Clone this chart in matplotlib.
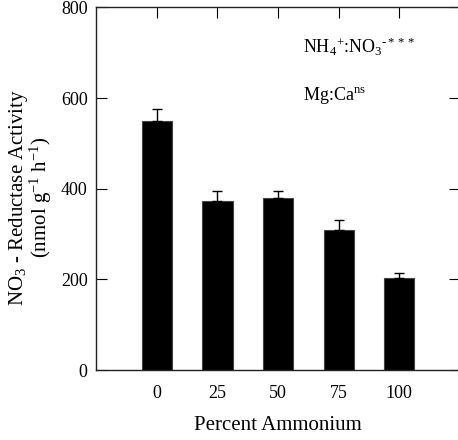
import matplotlib
matplotlib.use("Agg")
import matplotlib.pyplot as plt
import numpy as np

categories = ["0", "25", "50", "75", "100"]
activity = [549, 373, 379, 309, 202]
errors = [26, 22, 17, 22, 13]

plt.rcParams['font.family'] = ['Liberation Serif', 'DejaVu Serif']
plt.rcParams['mathtext.fontset'] = 'custom'
plt.rcParams['mathtext.rm'] = 'Liberation Serif'
plt.rcParams['mathtext.it'] = 'Liberation Serif:italic'

fig = plt.figure(figsize=(4.58, 4.40), dpi=100)
W, H = 458, 440
ax = fig.add_axes([96 / W, 70 / H, (460 - 96) / W, (370 - 7.5) / H])

x = np.arange(len(categories))
ax.bar(x, activity, width=0.5, color='black', edgecolor='#444444', linewidth=0.8,
       yerr=[[0] * len(errors), errors],
       error_kw=dict(ecolor='black', elinewidth=1.0, capsize=3.5, capthick=1.0))

ax.set_xlim(-1.0, 5.0)
ax.set_ylim(0, 800)
ax.set_yticks([0, 200, 400, 600, 800])
ax.set_xticks(x)
ax.set_xticklabels(categories)

for s in ax.spines.values():
    s.set_linewidth(1.0)
    s.set_color('#222222')

ax.tick_params(axis='y', which='both', direction='in', length=8, width=0.8,
               left=True, right=True, labelsize=13, pad=6)
ax.tick_params(axis='x', which='both', direction='in', length=8, width=0.8,
               bottom=False, top=True, labelsize=13, pad=11)

ax.set_xlabel("Percent Ammonium", fontsize=15, labelpad=10)
ax.set_ylabel("NO$_3$ - Reductase Activity\n(nmol g$^{-1}$ h$^{-1}$)",
              fontsize=15, linespacing=0.9)
ax.yaxis.set_label_coords(-0.115, 0.476)

ax.text(0.57, 0.875, "NH$_4$$^{+}$:NO$_3$$^{\u2010***}$", transform=ax.transAxes,
        fontsize=13, ha='left', va='baseline')
ax.text(0.57, 0.745, r"Mg:Ca$^{\mathrm{ns}}$", transform=ax.transAxes,
        fontsize=13, ha='left', va='baseline')

fig.savefig("out.png", dpi=100)
